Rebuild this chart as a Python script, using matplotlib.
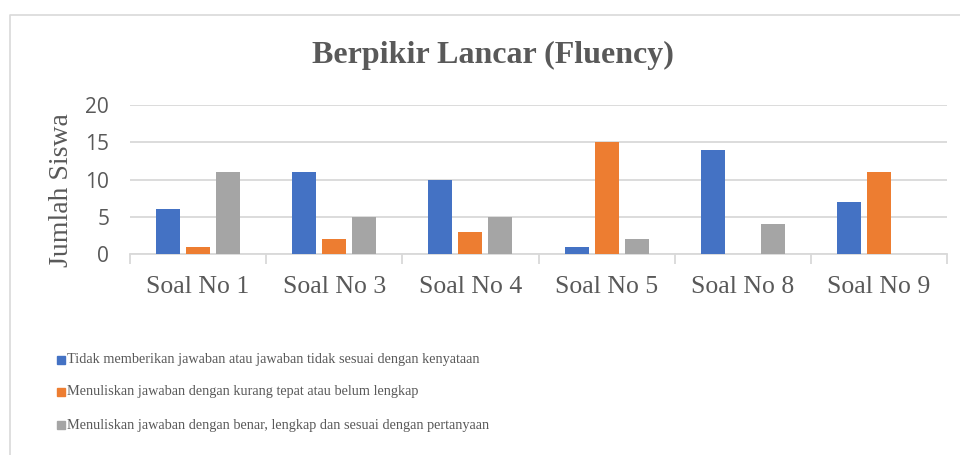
import matplotlib
matplotlib.use("Agg")
import matplotlib.pyplot as plt
import numpy as np
from matplotlib.patches import Rectangle
from matplotlib.lines import Line2D

categories = ["Soal No 1", "Soal No 3", "Soal No 4", "Soal No 5", "Soal No 8", "Soal No 9"]
series_names = [
    "Tidak memberikan jawaban atau jawaban tidak sesuai dengan kenyataan",
    "Menuliskan jawaban dengan kurang tepat atau belum lengkap",
    "Menuliskan jawaban dengan benar, lengkap dan sesuai dengan pertanyaan",
]
tidak = [6, 11, 10, 1, 14, 7]
kurang = [1, 2, 3, 15, 0, 11]
benar = [11, 5, 5, 2, 4, 0]
yticks = [0, 5, 10, 15, 20]
title = "Berpikir Lancar (Fluency)"
ylabel = "Jumlah Siswa"

colors = ["#4472C4", "#ED7D31", "#A5A5A5"]
txt = "#595959"
grid = "#D9D9D9"

W, H = 960, 455
fig = plt.figure(figsize=(W / 100, H / 100), dpi=100)

# outer chart border (left and top visible)
fig.lines.append(Line2D([10 / W, 10 / W, 1.0], [0.0, 1 - 15 / H, 1 - 15 / H],
                        transform=fig.transFigure, color="#D9D9D9", linewidth=1.2))

ax = fig.add_axes([130 / W, (H - 254) / H, (947 - 130) / W, (254 - 105) / H])
x = np.arange(len(categories))
bw = 24 / 136
step = 30 / 136
for i, (vals, c) in enumerate(zip([tidak, kurang, benar], colors)):
    ax.bar(x + (i - 1) * step, vals, width=bw, color=c, zorder=3)

ax.set_xlim(-0.5, len(categories) - 0.5)
ax.set_ylim(0, 20)
ax.set_yticks(yticks)
ax.set_yticklabels([str(v) for v in yticks], family="Open Sans", fontsize=15, color=txt)
ax.yaxis.grid(True, color=grid, linewidth=1.3, zorder=0)
ax.tick_params(axis="y", length=0, pad=15)
for s in ["top", "right", "left"]:
    ax.spines[s].set_visible(False)
ax.spines["bottom"].set_color(grid)
ax.spines["bottom"].set_linewidth(1.3)

ax.set_xticks(x)
ax.set_xticklabels(categories, family="Liberation Serif", fontsize=18.5, color=txt)
ax.tick_params(axis="x", length=0, pad=16)
ax.set_xticks(np.arange(len(categories) + 1) - 0.5, minor=True)
ax.tick_params(axis="x", which="minor", length=7, color=grid, width=1.3)

fig.text(493 / W, 1 - 55 / H, title, family="Liberation Serif", fontweight="bold",
         fontsize=23, color=txt, ha="center", va="center")
fig.text(61 / W, 1 - 190 / H, ylabel, family="Liberation Serif", fontsize=20,
         color=txt, rotation=90, ha="center", va="center")

ly = [360, 392, 425]
for name, c, yy in zip(series_names, colors, ly):
    fig.patches.append(Rectangle((57 / W, 1 - (yy + 4) / H), 8 / W, 8 / H,
                                 transform=fig.transFigure, color=c))
    fig.text(67 / W, 1 - yy / H, name, family="Liberation Serif", fontsize=10.3,
             color=txt, ha="left", va="center")

fig.savefig("out.png", dpi=100)
